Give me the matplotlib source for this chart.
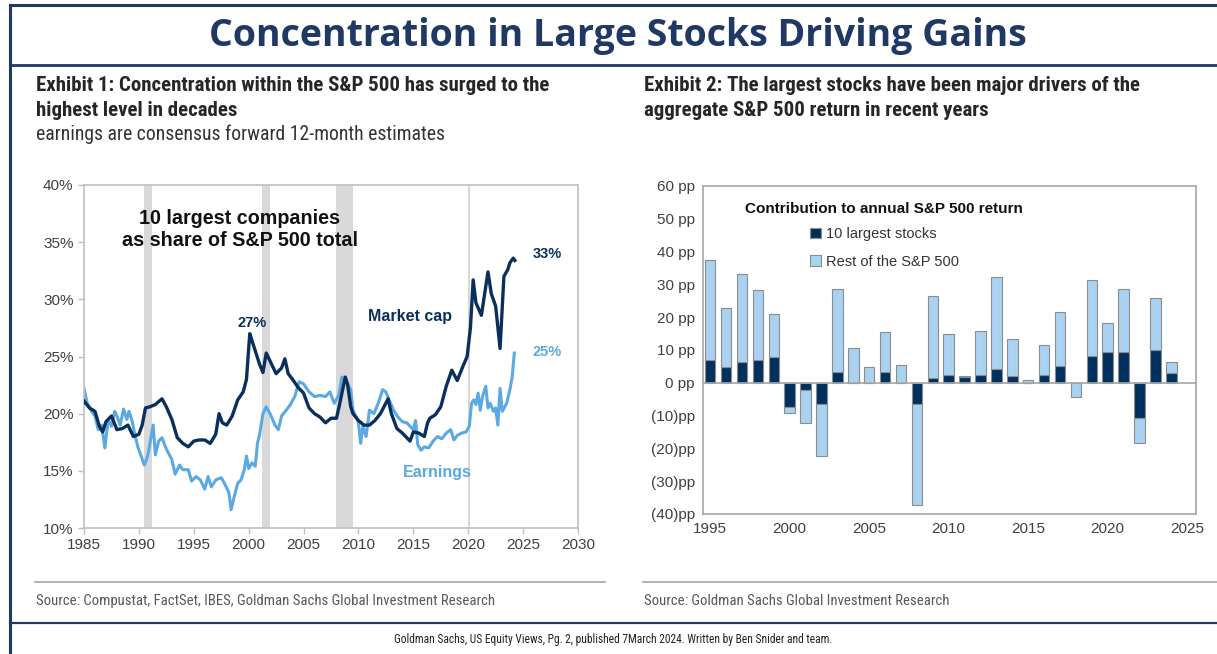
import matplotlib
matplotlib.use("Agg")
import matplotlib.pyplot as plt
import numpy as np
from matplotlib.patches import Patch
from matplotlib.lines import Line2D

W, H = 1217, 654

NAVY = "#1f3864"
DARK = "#0b2f5c"
LIGHT = "#5aa9e2"
BAR_DARK = "#00305e"
BAR_LIGHT = "#a9d2f1"
GRAY_TXT = "#404040"
NARROW = ["Roboto Condensed", "Liberation Sans Narrow", "Liberation Sans", "DejaVu Sans"]
ARIAL = ["Liberation Sans", "DejaVu Sans"]

# ---- Exhibit 1 data ----
mcap_year = [1985.0, 1985.5, 1986.0, 1986.4, 1986.7, 1987.0, 1987.5, 1988.0, 1988.5,
             1989.0, 1989.5, 1990.0, 1990.3, 1990.6, 1991.0, 1991.5, 1992.1, 1992.5,
             1993.0, 1993.5, 1994.0, 1994.5, 1995.0, 1995.5, 1996.0, 1996.5, 1997.0,
             1997.3, 1997.6, 1998.0, 1998.5, 1999.0, 1999.5, 1999.8, 2000.1, 2000.3,
             2000.6, 2001.0, 2001.3, 2001.6, 2002.0, 2002.5, 2003.0, 2003.3, 2003.6,
             2004.0, 2004.5, 2005.0, 2005.5, 2006.0, 2006.5, 2007.0, 2007.5, 2008.0,
             2008.3, 2008.8, 2009.0, 2009.3, 2009.5, 2010.0, 2010.5, 2011.0, 2011.5,
             2012.0, 2012.7, 2013.0, 2013.5, 2014.0, 2014.5, 2014.7, 2015.0, 2015.5,
             2016.0, 2016.3, 2016.5, 2017.0, 2017.5, 2018.0, 2018.5, 2019.0, 2019.5,
             2019.9, 2020.2, 2020.45, 2020.7, 2021.2, 2021.8, 2022.1, 2022.5, 2022.9,
             2023.25, 2023.6, 2023.8, 2024.1, 2024.25]
mcap_share = [21.1, 20.5, 20.2, 18.9, 18.4, 19.3, 19.8, 18.6, 18.7,
              19.0, 18.0, 18.2, 19.0, 20.5, 20.6, 20.8, 21.3, 20.6,
              19.5, 17.9, 17.4, 17.1, 17.6, 17.7, 17.7, 17.4, 18.2,
              20.0, 19.2, 19.0, 19.8, 21.2, 21.9, 23.0, 27.0, 26.4,
              25.5, 24.3, 23.6, 25.3, 24.5, 23.5, 24.0, 24.8, 23.5,
              23.0, 22.3, 21.8, 20.5, 20.0, 19.7, 19.2, 19.6, 19.6,
              20.9, 23.2, 22.6, 20.6, 20.0, 19.4, 19.0, 19.0, 19.4,
              20.0, 21.3, 20.0, 18.7, 18.3, 17.8, 17.6, 18.4, 18.3,
              18.0, 19.2, 19.6, 19.9, 20.6, 22.4, 23.8, 22.9, 24.1,
              25.0, 27.5, 31.7, 29.7, 28.6, 32.4, 30.5, 29.4, 25.7,
              32.0, 32.6, 33.2, 33.6, 33.4]

earn_year = [1985.0, 1985.3, 1985.7, 1986.0, 1986.3, 1986.6, 1986.9, 1987.2, 1987.5,
             1987.8, 1988.0, 1988.3, 1988.6, 1988.9, 1989.1, 1989.4, 1989.6, 1989.9,
             1990.2, 1990.5, 1990.8, 1991.3, 1991.5, 1991.8, 1992.1, 1992.5, 1993.0,
             1993.3, 1993.7, 1994.0, 1994.5, 1994.8, 1995.2, 1995.6, 1996.0, 1996.3,
             1996.6, 1997.0, 1997.5, 1997.8, 1998.2, 1998.4, 1998.7, 1999.0, 1999.3,
             1999.6, 1999.8, 2000.0, 2000.3, 2000.6, 2000.8, 2001.0, 2001.3, 2001.6,
             2002.0, 2002.4, 2002.7, 2003.0, 2003.5, 2003.8, 2004.2, 2004.6, 2005.0,
             2005.5, 2006.0, 2006.5, 2007.0, 2007.4, 2007.8, 2008.2, 2008.5, 2008.9,
             2009.3, 2009.5, 2009.8, 2010.0, 2010.2, 2010.4, 2010.7, 2011.0, 2011.4,
             2011.8, 2012.2, 2012.5, 2012.8, 2013.2, 2013.6, 2014.0, 2014.4, 2014.7,
             2015.0, 2015.2, 2015.4, 2015.7, 2016.0, 2016.4, 2016.8, 2017.2, 2017.6,
             2018.0, 2018.4, 2018.7, 2019.0, 2019.4, 2019.8, 2020.1, 2020.3, 2020.5,
             2020.7, 2020.9, 2021.1, 2021.3, 2021.6, 2021.8, 2022.0, 2022.3, 2022.5,
             2022.7, 2022.9, 2023.1, 2023.5, 2023.8, 2024.0, 2024.2]
earn_share = [22.2, 20.9, 20.2, 19.8, 18.6, 19.0, 17.0, 19.5, 18.9,
              20.2, 19.8, 19.0, 20.4, 19.5, 20.2, 19.3, 18.3, 17.1,
              16.3, 15.5, 16.3, 19.0, 16.4, 17.6, 17.9, 16.9, 16.0,
              14.7, 15.5, 15.1, 15.1, 14.1, 14.5, 14.2, 13.4, 14.5,
              13.6, 14.2, 14.4, 13.9, 13.1, 11.6, 12.8, 13.9, 14.2,
              15.1, 16.3, 15.2, 15.7, 15.4, 17.4, 18.2, 20.0, 20.6,
              19.9, 19.0, 18.6, 19.8, 20.4, 20.8, 21.5, 22.8, 22.6,
              21.9, 21.5, 21.6, 21.5, 21.9, 20.9, 21.6, 23.2, 22.8,
              22.1, 20.3, 19.7, 19.2, 17.4, 18.9, 18.0, 20.3, 20.0,
              20.9, 22.1, 21.9, 21.2, 20.3, 19.7, 19.3, 19.2, 18.9,
              18.6, 19.4, 17.3, 16.8, 17.1, 17.0, 17.6, 18.0, 17.8,
              18.3, 18.6, 17.7, 18.1, 18.3, 18.4, 18.9, 20.9, 21.2,
              20.8, 21.8, 20.3, 21.5, 22.4, 20.5, 20.9, 20.2, 20.5,
              19.0, 22.2, 20.2, 20.9, 22.1, 23.2, 25.3]

recessions = [(1990.5, 1991.2), (2001.2, 2001.9), (2007.95, 2009.5)]

# ---- Exhibit 2 data ----
years = list(range(1995, 2025))
top10 = [6.8, 4.8, 6.3, 6.8, 7.8, -7.4, -2.1, -6.6, 3.3, 0.0,
         0.0, 3.3, 0.0, -6.6, 1.4, 2.3, 1.7, 2.3, 4.1, 2.0,
         0.0, 2.3, 5.0, 0.0, 8.3, 9.4, 9.4, -10.6, 10.0, 3.0]
rest = [30.7, 17.9, 26.9, 21.6, 13.1, -1.9, -10.1, -15.8, 25.2, 10.6,
        4.7, 12.3, 5.3, -30.6, 25.0, 12.5, 0.3, 13.6, 28.1, 11.4,
        1.0, 9.3, 16.7, -4.4, 23.0, 8.7, 19.2, -7.7, 16.0, 3.2]

fig = plt.figure(figsize=(W / 100, H / 100), dpi=100)


def fx(px):
    return px / W


def fy(py):
    return 1 - py / H


# frame lines
fig.add_artist(Line2D([fx(10), fx(10)], [0, fy(5)], color=NAVY, lw=2.2))
fig.add_artist(Line2D([fx(10), 1], [fy(5), fy(5)], color=NAVY, lw=2.2))
fig.add_artist(Line2D([fx(10), 1], [fy(65), fy(65)], color=NAVY, lw=2.0))
fig.add_artist(Line2D([fx(10), 1], [fy(623), fy(623)], color=NAVY, lw=1.6))

fig.text(fx(618), fy(36), "Concentration in Large Stocks Driving Gains", ha="center", va="center",
         fontsize=27, fontweight="bold", color=NAVY, family=["Open Sans", "DejaVu Sans"])

fig.text(fx(36), fy(98), "Exhibit 1: Concentration within the S&P 500 has surged to the\nhighest level in decades",
         ha="left", va="center", fontsize=15, fontweight="bold", color="#262626",
         family=NARROW, linespacing=1.38)
fig.text(fx(36), fy(134), "earnings are consensus forward 12-month estimates", ha="left", va="center",
         fontsize=14.2, color="#333333", family=NARROW)
fig.text(fx(644), fy(98), "Exhibit 2: The largest stocks have been major drivers of the\naggregate S&P 500 return in recent years",
         ha="left", va="center", fontsize=15, fontweight="bold", color="#262626",
         family=NARROW, linespacing=1.38)

# source rules and notes
fig.add_artist(Line2D([fx(35), fx(605)], [fy(582), fy(582)], color="#a6a6a6", lw=1.2))
fig.add_artist(Line2D([fx(643), 1], [fy(582), fy(582)], color="#a6a6a6", lw=1.2))
fig.text(fx(36), fy(601), "Source: Compustat, FactSet, IBES, Goldman Sachs Global Investment Research",
         ha="left", va="center", fontsize=10.6, color="#595959", family=NARROW)
fig.text(fx(644), fy(601), "Source: Goldman Sachs Global Investment Research",
         ha="left", va="center", fontsize=10.6, color="#595959", family=NARROW)
fig.text(fx(613), fy(640),
         "Goldman Sachs, US Equity Views, Pg. 2, published 7March 2024. Written by Ben Snider and team.",
         ha="center", va="center", fontsize=8.3, color="#222222", family=NARROW)

# ---- left chart ----
ax1 = fig.add_axes([fx(84), fy(528), fx(578 - 84), (528 - 185) / H])
for a, b in recessions:
    ax1.axvspan(a, b, color="#d9d9d9", lw=0, zorder=0)
ax1.axvline(2020.05, color="#d9d9d9", lw=1.5, zorder=0)
ax1.plot(earn_year, earn_share, color=LIGHT, lw=2.2, zorder=2)
ax1.plot(mcap_year, mcap_share, color=DARK, lw=2.4, zorder=3)
ax1.set_xlim(1985, 2030)
ax1.set_ylim(10, 40)
ax1.set_xticks(range(1985, 2031, 5))
ax1.set_yticks(range(10, 41, 5))
ax1.set_yticklabels([f"{v}%" for v in range(10, 41, 5)])
for s in ax1.spines.values():
    s.set_color("#bfbfbf")
    s.set_linewidth(1.2)
ax1.tick_params(colors="#bfbfbf", labelcolor=GRAY_TXT, labelsize=11, length=4, width=1)
for lab in ax1.get_xticklabels() + ax1.get_yticklabels():
    lab.set_family(ARIAL)

ax1.text(1999.2, 36.1, "10 largest companies\nas share of S&P 500 total", ha="center", va="center",
         fontsize=14.2, fontweight="bold", color="#111111", family=ARIAL, linespacing=1.2)
ax1.text(2000.3, 27.9, "27%", ha="center", va="center", fontsize=10.5, fontweight="bold",
         color=DARK, family=ARIAL)
ax1.text(2014.7, 28.5, "Market cap", ha="center", va="center", fontsize=11.5, fontweight="bold",
         color=DARK, family=ARIAL)
ax1.text(2027.2, 34.0, "33%", ha="center", va="center", fontsize=10.5, fontweight="bold",
         color=DARK, family=ARIAL)
ax1.text(2027.2, 25.4, "25%", ha="center", va="center", fontsize=10.5, fontweight="bold",
         color=LIGHT, family=ARIAL)
ax1.text(2017.2, 14.85, "Earnings", ha="center", va="center", fontsize=11.5, fontweight="bold",
         color=LIGHT, family=ARIAL)

# ---- right chart ----
ax2 = fig.add_axes([fx(703), fy(514), fx(1196 - 703), (514 - 186) / H])
t10 = np.array(top10)
rs = np.array(rest)
rest_bottom = np.where(np.sign(rs) == np.sign(t10), t10, 0.0)
ax2.bar(years, t10, width=0.66, color=BAR_DARK, edgecolor="#8c8c8c", lw=0.8, zorder=3)
ax2.bar(years, rs, bottom=rest_bottom, width=0.66, color=BAR_LIGHT, edgecolor="#8c8c8c", lw=0.8, zorder=3)
ax2.axhline(0, color="#a6a6a6", lw=1.2, zorder=4)
ax2.set_xlim(1994.55, 2025.55)
ax2.set_ylim(-40, 60)
ax2.set_xticks(range(1995, 2026, 5))
yt = list(range(-40, 61, 10))
ax2.set_yticks(yt)
ax2.set_yticklabels([f"{v} pp" if v >= 0 else f"({-v})pp" for v in yt])
for s in ax2.spines.values():
    s.set_color("#a6a6a6")
    s.set_linewidth(1.2)
ax2.tick_params(length=0, labelcolor=GRAY_TXT, labelsize=11, pad=6)
for lab in ax2.get_xticklabels() + ax2.get_yticklabels():
    lab.set_family(ARIAL)

ax2.text(0.085, 0.93, "Contribution to annual S&P 500 return", transform=ax2.transAxes,
         ha="left", va="center", fontsize=11, fontweight="bold", color="#111111", family=ARIAL)
handles = [Patch(facecolor=BAR_DARK, edgecolor="#8c8c8c", lw=0.8, label="10 largest stocks"),
           Patch(facecolor=BAR_LIGHT, edgecolor="#8c8c8c", lw=0.8, label="Rest of the S&P 500")]
ax2.legend(handles=handles, loc="upper left", bbox_to_anchor=(0.218, 0.875), frameon=False,
           borderpad=0, borderaxespad=0, handlelength=0.75, handleheight=0.75, handletextpad=0.3,
           labelspacing=0.95, prop={"family": ARIAL, "size": 10.5}, labelcolor="#333333")

fig.savefig("out.png", dpi=100)
